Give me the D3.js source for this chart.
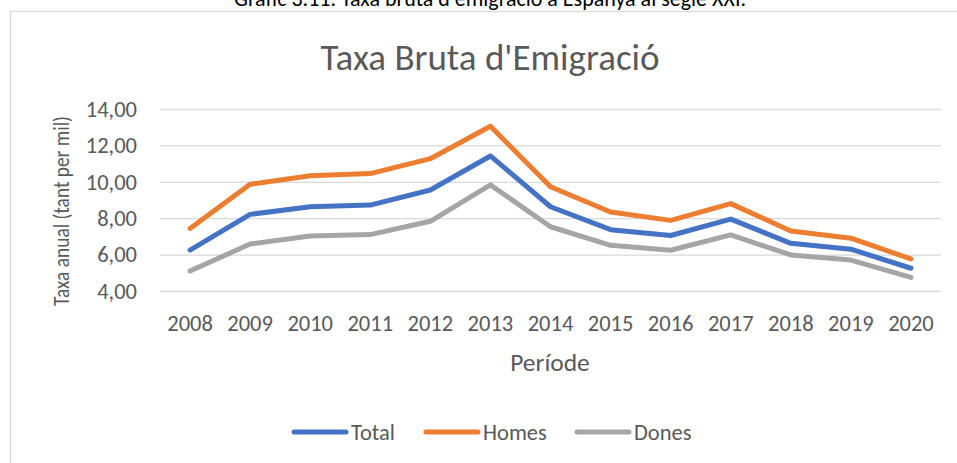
<!DOCTYPE html>
<html>
<head>
<meta charset="utf-8">
<script src="https://cdn.jsdelivr.net/npm/d3@7"></script>
<style>
  body { margin: 0; background: #fff; }
  svg { display: block; font-family: Carlito, Calibri, Lato, sans-serif; }
  .grid line { stroke: #d9d9d9; stroke-width: 1.3; }
  .grid .domain { display: none; }
</style>
</head>
<body>
<div id="chart"></div>
<script>
// data
var years = ["2008", "2009", "2010", "2011", "2012", "2013", "2014", "2015", "2016", "2017", "2018", "2019", "2020"];
var total = [6.25, 8.21, 8.63, 8.72, 9.55, 11.42, 8.63, 7.37, 7.05, 7.95, 6.62, 6.30, 5.25];
var homes = [7.44, 9.86, 10.33, 10.45, 11.27, 13.05, 9.73, 8.34, 7.88, 8.80, 7.30, 6.90, 5.76];
var dones = [5.10, 6.58, 7.02, 7.10, 7.83, 9.83, 7.53, 6.51, 6.24, 7.08, 5.98, 5.70, 4.75];
var yTicks = [4, 6, 8, 10, 12, 14];

var series = [
  { name: "Total", values: total, color: "#4472c4" },
  { name: "Homes", values: homes, color: "#ed7d31" },
  { name: "Dones", values: dones, color: "#a5a5a5" }
];

var W = 957, H = 463;
var plot = { left: 160, right: 941, top: 109, bottom: 291 };
var grey = "#595959";

var svg = d3.select("#chart").append("svg")
  .attr("width", W)
  .attr("height", H);

// caption above the chart box (cut off by the top edge, as in the source)
svg.append("text")
  .attr("x", 490)
  .attr("y", 6)
  .attr("text-anchor", "middle")
  .style("font-size", "22px")
  .style("fill", "#000")
  .text("Gràfic 3.11. Taxa bruta d'emigració a Espanya al segle XXI.");

// chart box
svg.append("rect")
  .attr("x", 10.5)
  .attr("y", 11.5)
  .attr("width", 960)
  .attr("height", 470)
  .attr("fill", "#fff")
  .attr("stroke", "#d9d9d9")
  .attr("stroke-width", 1.3);

svg.append("text")
  .attr("x", 490)
  .attr("y", 70)
  .attr("text-anchor", "middle")
  .style("font-size", "37px")
  .style("fill", grey)
  .text("Taxa Bruta d'Emigració");

var x = d3.scaleBand()
  .domain(years)
  .range([plot.left, plot.right]);

var y = d3.scaleLinear()
  .domain([4, 14])
  .range([plot.bottom, plot.top]);

var fmt = d3.formatLocale({ decimal: ",", thousands: ".", grouping: [3], currency: ["", "€"] }).format(".2f");

// gridlines + y labels
var yAxis = svg.append("g")
  .attr("class", "grid")
  .attr("transform", "translate(" + plot.left + ",0)")
  .call(d3.axisLeft(y).tickValues(yTicks).tickSize(-(plot.right - plot.left)).tickPadding(23).tickFormat(fmt));

yAxis.selectAll("text")
  .style("font-size", "22.5px")
  .style("fill", grey)
  .style("font-family", "Carlito, Calibri, Lato, sans-serif");

// x labels
var xAxis = svg.append("g")
  .attr("transform", "translate(0," + plot.bottom + ")")
  .call(d3.axisBottom(x).tickSize(0));

xAxis.select(".domain").remove();
xAxis.selectAll("text")
  .attr("dy", null)
  .attr("y", 40)
  .style("font-size", "22.5px")
  .style("fill", grey)
  .style("font-family", "Carlito, Calibri, Lato, sans-serif");

// axis titles
svg.append("text")
  .attr("x", 550)
  .attr("y", 371)
  .attr("text-anchor", "middle")
  .style("font-size", "25.5px")
  .style("fill", grey)
  .text("Període");

// the source font is narrower, so squeeze the y title to its length
svg.append("text")
  .attr("transform", "translate(69,211) rotate(-90)")
  .attr("x", -95)
  .attr("textLength", 190)
  .attr("lengthAdjust", "spacingAndGlyphs")
  .style("font-size", "22.5px")
  .style("fill", grey)
  .text("Taxa anual (tant per mil)");

// lines
var line = d3.line()
  .x(function(d, i) { return x(years[i]) + x.bandwidth() / 2; })
  .y(function(d) { return y(d); });

series.forEach(function(s) {
  svg.append("path")
    .datum(s.values)
    .attr("d", line)
    .attr("fill", "none")
    .attr("stroke", s.color)
    .attr("stroke-width", 5)
    .attr("stroke-linejoin", "round")
    .attr("stroke-linecap", "round");
});

// legend
var legendX = [294, 426, 577];
var legend = svg.selectAll(".legend")
  .data(series)
  .enter()
  .append("g")
  .attr("class", "legend")
  .attr("transform", function(d, i) { return "translate(" + legendX[i] + ",432)"; });

legend.append("line")
  .attr("x1", 0)
  .attr("x2", 52)
  .attr("stroke", function(d) { return d.color; })
  .attr("stroke-width", 5)
  .attr("stroke-linecap", "round");

legend.append("text")
  .attr("x", 57)
  .attr("y", 8)
  .style("font-size", "22.5px")
  .style("fill", grey)
  .text(function(d) { return d.name; });
</script>
</body>
</html>
